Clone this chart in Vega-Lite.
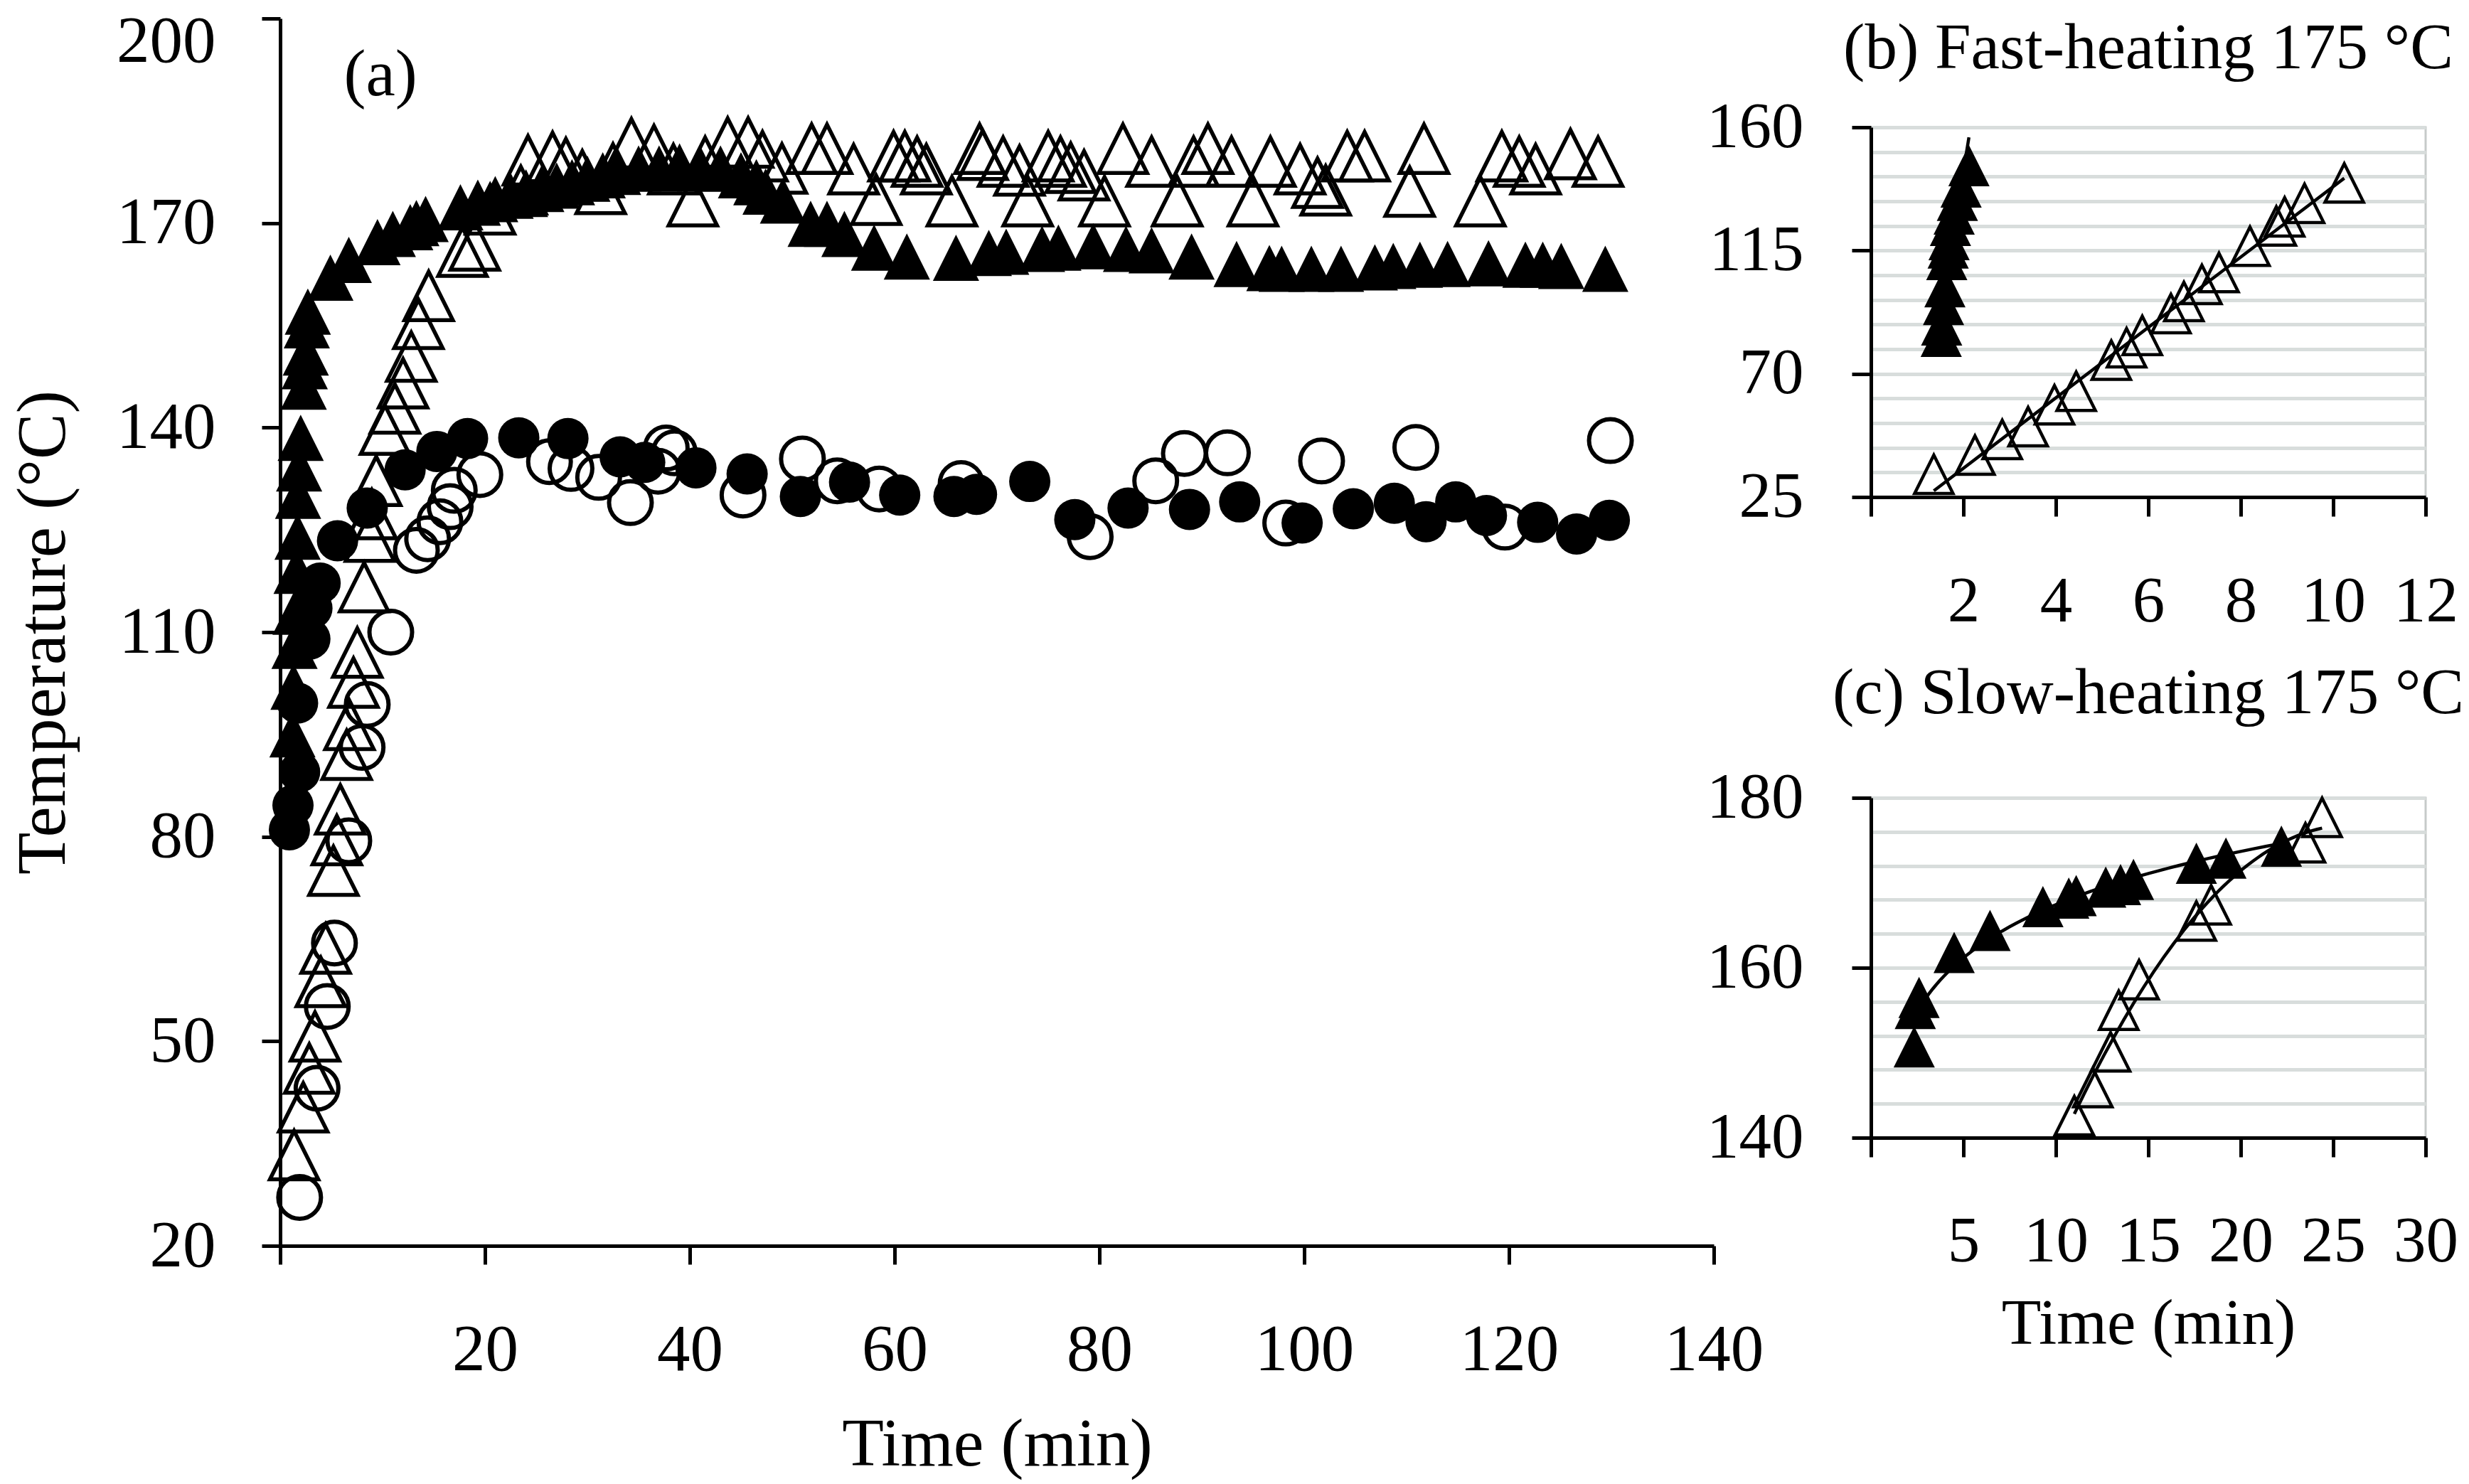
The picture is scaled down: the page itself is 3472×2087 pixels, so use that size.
{
  "$schema": "https://vega.github.io/schema/vega-lite/v6.json",
  "background": "white",
  "padding": {"left": 12, "top": 12, "right": 0, "bottom": 8},
  "config": {
    "font": "Liberation Serif",
    "view": {"stroke": null},
    "axis": {
      "labelFont": "Liberation Serif", "titleFont": "Liberation Serif",
      "labelColor": "black", "titleColor": "black", "titleFontWeight": "normal",
      "domainColor": "black", "tickColor": "black", "domainWidth": 5, "tickWidth": 5,
      "labelFlush": false, "labelOverlap": false, "grid": false
    }
  },
  "datasets": {
    "main": [
      {"s":"ot","t":1.36,"T":33.3},{"s":"ot","t":2.25,"T":40.3},{"s":"ot","t":2.84,"T":46},{"s":"ot","t":3.4,"T":50.7},{"s":"ot","t":3.97,"T":58.7},{"s":"ot","t":4.44,"T":63.6},{"s":"ot","t":5.2,"T":75},{"s":"ot","t":5.53,"T":79.5},{"s":"ot","t":5.87,"T":84},{"s":"ot","t":6.49,"T":92},{"s":"ot","t":6.77,"T":96.4},{"s":"ot","t":7.16,"T":102.6},{"s":"ot","t":7.53,"T":107},{"s":"ot","t":8.2,"T":116.6},{"s":"ot","t":8.77,"T":124},{"s":"ot","t":8.95,"T":127.3},{"s":"ot","t":9.38,"T":132.2},{"s":"ot","t":10.24,"T":139.7},{"s":"ot","t":11.2,"T":142.8},{"s":"ot","t":12,"T":146.5},{"s":"ot","t":12.8,"T":150.4},{"s":"ot","t":13.5,"T":155.2},{"s":"ot","t":14.5,"T":159.3},{"s":"ot","t":17.8,"T":165.8},{"s":"ot","t":19,"T":166.7},{"s":"ot","t":20.5,"T":172},{"s":"ot","t":23.5,"T":174.7},{"s":"ot","t":24.2,"T":179.2},{"s":"ot","t":26.6,"T":179.7},{"s":"ot","t":27.9,"T":178.8},{"s":"ot","t":29.5,"T":177},{"s":"ot","t":31.3,"T":175},{"s":"ot","t":32.5,"T":178},{"s":"ot","t":34.3,"T":181.7},{"s":"ot","t":36.5,"T":180.7},{"s":"ot","t":38.4,"T":177.9},{"s":"ot","t":40.3,"T":173.2},{"s":"ot","t":41.5,"T":179},{"s":"ot","t":43.7,"T":181.8},{"s":"ot","t":45.7,"T":181.8},{"s":"ot","t":47.1,"T":179.8},{"s":"ot","t":49,"T":178},{"s":"ot","t":51.9,"T":180.9},{"s":"ot","t":53.4,"T":180.9},{"s":"ot","t":56,"T":177.9},{"s":"ot","t":58.2,"T":173.4},{"s":"ot","t":59.9,"T":179.8},{"s":"ot","t":61,"T":179.8},{"s":"ot","t":62.2,"T":179},{"s":"ot","t":63.1,"T":177.9},{"s":"ot","t":65.6,"T":173.2},{"s":"ot","t":68.3,"T":180.9},{"s":"ot","t":68.6,"T":180},{"s":"ot","t":70.6,"T":179},{"s":"ot","t":72.2,"T":177.7},{"s":"ot","t":73,"T":173.2},{"s":"ot","t":75,"T":179.8},{"s":"ot","t":76.2,"T":179},{"s":"ot","t":77.2,"T":178.1},{"s":"ot","t":78.5,"T":177},{"s":"ot","t":80.5,"T":173.2},{"s":"ot","t":82.3,"T":180.9},{"s":"ot","t":85.1,"T":179},{"s":"ot","t":87.6,"T":173.2},{"s":"ot","t":89.2,"T":179},{"s":"ot","t":90.6,"T":180.9},{"s":"ot","t":92.9,"T":179},{"s":"ot","t":95,"T":173.2},{"s":"ot","t":96.7,"T":179},{"s":"ot","t":99.6,"T":177.9},{"s":"ot","t":101.3,"T":175.9},{"s":"ot","t":102.1,"T":174.8},{"s":"ot","t":104.2,"T":179.8},{"s":"ot","t":105.9,"T":179.8},{"s":"ot","t":110.3,"T":174.6},{"s":"ot","t":111.7,"T":180.9},{"s":"ot","t":117.2,"T":173.2},{"s":"ot","t":119.3,"T":179.8},{"s":"ot","t":121,"T":179},{"s":"ot","t":122.6,"T":177.9},{"s":"ot","t":126,"T":180.1},{"s":"ot","t":128.7,"T":179},
      {"s":"oc","t":1.9,"T":27.1},{"s":"oc","t":3.6,"T":43.1},{"s":"oc","t":4.6,"T":55.1},{"s":"oc","t":5.3,"T":64.4},{"s":"oc","t":6.7,"T":79.4},{"s":"oc","t":8,"T":93.1},{"s":"oc","t":8.5,"T":99.4},{"s":"oc","t":10.8,"T":110},{"s":"oc","t":13.3,"T":122},{"s":"oc","t":14.4,"T":123.7},{"s":"oc","t":15.6,"T":126.2},{"s":"oc","t":16.6,"T":128.4},{"s":"oc","t":17,"T":130.8},{"s":"oc","t":19.5,"T":133.1},{"s":"oc","t":26.3,"T":135},{"s":"oc","t":28.4,"T":134},{"s":"oc","t":31.1,"T":132.7},{"s":"oc","t":34.2,"T":129},{"s":"oc","t":36.9,"T":133.6},{"s":"oc","t":37.7,"T":137},{"s":"oc","t":38.5,"T":136.3},{"s":"oc","t":45.2,"T":130.1},{"s":"oc","t":51,"T":135.4},{"s":"oc","t":54.4,"T":132.2},{"s":"oc","t":58.5,"T":131},{"s":"oc","t":66.5,"T":131.8},{"s":"oc","t":79.1,"T":124},{"s":"oc","t":85.5,"T":132.2},{"s":"oc","t":88.3,"T":136.2},{"s":"oc","t":92.5,"T":136.3},{"s":"oc","t":98.2,"T":126},{"s":"oc","t":101.7,"T":135.1},{"s":"oc","t":110.9,"T":137.1},{"s":"oc","t":119.6,"T":125.4},{"s":"oc","t":129.9,"T":138.1},
      {"s":"ft","t":1.2,"T":95},{"s":"ft","t":1.3,"T":102},{"s":"ft","t":1.4,"T":108},{"s":"ft","t":1.5,"T":113},{"s":"ft","t":1.6,"T":119},{"s":"ft","t":1.7,"T":124},{"s":"ft","t":1.75,"T":130},{"s":"ft","t":1.85,"T":134},{"s":"ft","t":2,"T":138.5},{"s":"ft","t":2.3,"T":146},{"s":"ft","t":2.4,"T":149},{"s":"ft","t":2.5,"T":151},{"s":"ft","t":2.6,"T":155},{"s":"ft","t":2.7,"T":157},{"s":"ft","t":4.9,"T":162},{"s":"ft","t":6.7,"T":164.6},{"s":"ft","t":9.5,"T":167.2},{"s":"ft","t":11,"T":168.4},{"s":"ft","t":12.7,"T":169.4},{"s":"ft","t":13.3,"T":170},{"s":"ft","t":14.2,"T":170.6},{"s":"ft","t":17.6,"T":172.3},{"s":"ft","t":19.3,"T":173},{"s":"ft","t":21,"T":173.5},{"s":"ft","t":22.5,"T":174},{"s":"ft","t":24,"T":174.5},{"s":"ft","t":25.5,"T":175},{"s":"ft","t":27,"T":175.5},{"s":"ft","t":28.5,"T":176},{"s":"ft","t":30,"T":176.5},{"s":"ft","t":31.5,"T":177},{"s":"ft","t":33,"T":177.5},{"s":"ft","t":35,"T":178},{"s":"ft","t":37,"T":178},{"s":"ft","t":39,"T":178.3},{"s":"ft","t":41,"T":178},{"s":"ft","t":43,"T":178},{"s":"ft","t":45,"T":177},{"s":"ft","t":46.5,"T":176},{"s":"ft","t":47.4,"T":174.6},{"s":"ft","t":49.1,"T":173.3},{"s":"ft","t":51.8,"T":169.9},{"s":"ft","t":53.4,"T":169.9},{"s":"ft","t":55.1,"T":168.4},{"s":"ft","t":58,"T":166.4},{"s":"ft","t":61.2,"T":165.1},{"s":"ft","t":66,"T":164.9},{"s":"ft","t":69.2,"T":165.6},{"s":"ft","t":70.9,"T":165.8},{"s":"ft","t":74.4,"T":166.2},{"s":"ft","t":76,"T":166.4},{"s":"ft","t":79.4,"T":166.6},{"s":"ft","t":82.6,"T":166.2},{"s":"ft","t":85.1,"T":166},{"s":"ft","t":89,"T":165.1},{"s":"ft","t":93.4,"T":164},{"s":"ft","t":96.6,"T":163.4},{"s":"ft","t":97.8,"T":163.3},{"s":"ft","t":100.7,"T":163.3},{"s":"ft","t":103.6,"T":163.3},{"s":"ft","t":106.9,"T":163.5},{"s":"ft","t":108.7,"T":163.7},{"s":"ft","t":111.3,"T":163.9},{"s":"ft","t":114,"T":164},{"s":"ft","t":118,"T":164.1},{"s":"ft","t":121.6,"T":163.9},{"s":"ft","t":123.3,"T":163.9},{"s":"ft","t":125.1,"T":163.7},{"s":"ft","t":129.4,"T":163.3},
      {"s":"fc","t":0.9,"T":81},{"s":"fc","t":1.25,"T":84.6},{"s":"fc","t":1.9,"T":89.5},{"s":"fc","t":1.7,"T":99.6},{"s":"fc","t":2.9,"T":109},{"s":"fc","t":3.1,"T":113.5},{"s":"fc","t":3.9,"T":117.2},{"s":"fc","t":5.6,"T":123.4},{"s":"fc","t":8.5,"T":128.2},{"s":"fc","t":12.2,"T":133.8},{"s":"fc","t":15.3,"T":136.5},{"s":"fc","t":18.3,"T":138.4},{"s":"fc","t":23.3,"T":138.5},{"s":"fc","t":28.1,"T":138.4},{"s":"fc","t":33.2,"T":135.7},{"s":"fc","t":35.6,"T":134.9},{"s":"fc","t":40.6,"T":134.1},{"s":"fc","t":45.6,"T":133.2},{"s":"fc","t":50.8,"T":129.9},{"s":"fc","t":55.6,"T":132},{"s":"fc","t":60.5,"T":130.1},{"s":"fc","t":65.8,"T":129.9},{"s":"fc","t":68,"T":130.2},{"s":"fc","t":73.2,"T":132.1},{"s":"fc","t":77.6,"T":126.5},{"s":"fc","t":82.8,"T":128.2},{"s":"fc","t":88.8,"T":128},{"s":"fc","t":93.7,"T":129.1},{"s":"fc","t":99.8,"T":126},{"s":"fc","t":104.8,"T":128.1},{"s":"fc","t":108.8,"T":128.9},{"s":"fc","t":111.9,"T":126.2},{"s":"fc","t":114.8,"T":129.1},{"s":"fc","t":117.8,"T":127.1},{"s":"fc","t":122.8,"T":126.1},{"s":"fc","t":126.6,"T":124.4},{"s":"fc","t":129.8,"T":126.4}
    ],
    "fast": [
      {"s":"ft","t":1.52,"T":83.7},{"s":"ft","t":1.53,"T":87.8},{"s":"ft","t":1.57,"T":95.3},{"s":"ft","t":1.6,"T":101.8},{"s":"ft","t":1.64,"T":111.7},{"s":"ft","t":1.67,"T":115.9},{"s":"ft","t":1.69,"T":119},{"s":"ft","t":1.72,"T":124.2},{"s":"ft","t":1.8,"T":128.3},{"s":"ft","t":1.87,"T":133.3},{"s":"ft","t":1.95,"T":138.2},{"s":"ft","t":2.12,"T":146},
      {"s":"ot","t":1.36,"T":33.3},{"s":"ot","t":2.25,"T":40.3},{"s":"ot","t":2.84,"T":46},{"s":"ot","t":3.4,"T":50.7},{"s":"ot","t":3.97,"T":58.7},{"s":"ot","t":4.44,"T":63.6},{"s":"ot","t":5.2,"T":75},{"s":"ot","t":5.53,"T":79.5},{"s":"ot","t":5.87,"T":84},{"s":"ot","t":6.49,"T":92},{"s":"ot","t":6.77,"T":96.4},{"s":"ot","t":7.16,"T":102.6},{"s":"ot","t":7.53,"T":107},{"s":"ot","t":8.2,"T":116.6},{"s":"ot","t":8.77,"T":124},{"s":"ot","t":8.95,"T":127.3},{"s":"ot","t":9.38,"T":132.2},{"s":"ot","t":10.24,"T":139.7}
    ],
    "slow": [
      {"s":"ft","t":2.34,"T":150.7},{"s":"ft","t":2.4,"T":155.2},{"s":"ft","t":2.6,"T":156.5},{"s":"ft","t":4.5,"T":161.8},{"s":"ft","t":6.44,"T":164.4},{"s":"ft","t":9.3,"T":167.2},{"s":"ft","t":10.7,"T":168.2},{"s":"ft","t":11.1,"T":168.5},{"s":"ft","t":12.7,"T":169.5},{"s":"ft","t":13.5,"T":169.8},{"s":"ft","t":14.2,"T":170.4},{"s":"ft","t":17.6,"T":172.3},{"s":"ft","t":19.2,"T":172.9},{"s":"ft","t":22.2,"T":174.3},
      {"s":"ot","t":11,"T":142.6},{"s":"ot","t":12,"T":145.9},{"s":"ot","t":12.96,"T":150.1},{"s":"ot","t":13.4,"T":155},{"s":"ot","t":14.5,"T":158.6},{"s":"ot","t":17.6,"T":165.5},{"s":"ot","t":18.4,"T":167.4},{"s":"ot","t":23.5,"T":174.7},{"s":"ot","t":24.4,"T":177.7}
    ]
  },
  "spacing": -82,
  "hconcat": [
    {
      "width": 2016,
      "height": 1726,
      "encoding": {
        "x": {"field": "t", "type": "quantitative", "scale": {"domain": [0, 140], "nice": false, "zero": false},
          "axis": {"values": [0,20,40,60,80,100,120,140], "labelExpr": "datum.value === 0 ? '' : datum.label", "title": "Time (min)",
            "tickSize": 26, "labelPadding": 75, "labelFontSize": 93, "titleFontSize": 96, "titlePadding": 39}},
        "y": {"field": "T", "type": "quantitative", "scale": {"domain": [20, 200], "nice": false, "zero": false},
          "axis": {"values": [20,50,80,110,140,170,200], "title": "Temperature (°C)",
            "tickSize": 26, "labelPadding": 65, "labelFontSize": 93, "titleFontSize": 97, "titlePadding": 84,
            "labelBaseline": {"condition": {"test": "datum.value === 200", "value": "top"}, "value": "middle"},
            "labelOffset": {"condition": {"test": "datum.value === 200", "value": -13}, "value": 0}}}
      },
      "layer": [
        {"data": {"name": "main"}, "transform": [{"filter": "datum.s === 'ot'"}],
         "mark": {"type": "point", "shape": "M0,-1L1,1L-1,1Z", "size": 4624, "filled": false, "stroke": "black", "strokeWidth": 5.5, "opacity": 1}},
        {"data": {"name": "main"}, "transform": [{"filter": "datum.s === 'oc'"}],
         "mark": {"type": "point", "shape": "circle", "size": 3600, "filled": false, "stroke": "black", "strokeWidth": 6, "opacity": 1}},
        {"data": {"name": "main"}, "transform": [{"filter": "datum.s === 'ft'"}],
         "mark": {"type": "point", "shape": "M0,-1L1,1L-1,1Z", "size": 4225, "filled": true, "fill": "black", "opacity": 1}},
        {"data": {"name": "main"}, "transform": [{"filter": "datum.s === 'fc'"}],
         "mark": {"type": "point", "shape": "circle", "size": 3364, "filled": true, "fill": "black", "opacity": 1}},
        {"data": {"values": [{"t": 9.8, "T": 191.7, "label": "(a)"}]},
         "mark": {"type": "text", "fontSize": 93, "font": "Liberation Serif", "color": "black", "align": "center", "baseline": "middle"},
         "encoding": {"text": {"field": "label"}}}
      ]
    },
    {
      "spacing": -9,
      "vconcat": [
        {
          "width": 780,
          "height": 1,
          "data": {"values": [{"v": 0}]},
          "mark": {"type": "point", "opacity": 0},
          "encoding": {}
        },
        {
          "spacing": 35,
          "vconcat": [
            {
              "width": 780,
              "height": 520,
              "view": {"stroke": "#c6cac9", "strokeWidth": 3},
              "title": {"text": "(b) Fast-heating 175 °C", "fontSize": 91, "font": "Liberation Serif", "fontWeight": "normal", "color": "black", "frame": "group", "anchor": "middle", "offset": 18},
              "encoding": {
                "x": {"field": "t", "type": "quantitative", "scale": {"domain": [0, 12], "nice": false, "zero": false},
                  "axis": {"values": [0,2,4,6,8,10,12], "labelExpr": "datum.value === 0 ? '' : datum.label", "title": null,
                    "tickSize": 27, "labelPadding": 75, "labelFontSize": 91}},
                "y": {"field": "T", "type": "quantitative", "scale": {"domain": [25, 160], "nice": false, "zero": false},
                  "axis": {"values": [25,34,43,52,61,70,79,88,97,106,115,124,133,142,151,160], "title": null,
                    "labelExpr": "(datum.value - 25) % 45 === 0 ? datum.label : ''",
                    "tickOpacity": {"condition": {"test": "(datum.value - 25) % 45 === 0", "value": 1}, "value": 0},
                    "grid": true, "gridColor": "#d8dddc", "gridWidth": 5,
                    "tickSize": 27, "labelPadding": 68, "labelFontSize": 91}}
              },
              "layer": [
                {"data": {"name": "fast"}, "transform": [{"filter": "datum.s === 'ft'"}, {"regression": "T", "on": "t", "method": "linear"}],
                 "mark": {"type": "line", "color": "black", "strokeWidth": 4.5}},
                {"data": {"name": "fast"}, "transform": [{"filter": "datum.s === 'ot'"}, {"regression": "T", "on": "t", "method": "linear"}],
                 "mark": {"type": "line", "color": "black", "strokeWidth": 4.5}},
                {"data": {"name": "fast"}, "transform": [{"filter": "datum.s === 'ot'"}],
                 "mark": {"type": "point", "shape": "M0,-1L1,1L-1,1Z", "size": 2916, "filled": false, "stroke": "black", "strokeWidth": 4.5, "opacity": 1}},
                {"data": {"name": "fast"}, "transform": [{"filter": "datum.s === 'ft'"}],
                 "mark": {"type": "point", "shape": "M0,-1L1,1L-1,1Z", "size": 3364, "filled": true, "fill": "black", "opacity": 1}}
              ]
            },
            {
              "width": 780,
              "height": 478,
              "view": {"stroke": "#c6cac9", "strokeWidth": 3},
              "title": {"text": "(c) Slow-heating 175 °C", "fontSize": 91, "font": "Liberation Serif", "fontWeight": "normal", "color": "black", "frame": "group", "anchor": "middle", "offset": 54},
              "encoding": {
                "x": {"field": "t", "type": "quantitative", "scale": {"domain": [0, 30], "nice": false, "zero": false},
                  "axis": {"values": [0,5,10,15,20,25,30], "labelExpr": "datum.value === 0 ? '' : datum.label", "title": "Time (min)",
                    "tickSize": 27, "labelPadding": 74, "labelFontSize": 91, "titleFontSize": 91, "titlePadding": 26}},
                "y": {"field": "T", "type": "quantitative", "scale": {"domain": [140, 180], "nice": false, "zero": false},
                  "axis": {"values": [140,144,148,152,156,160,164,168,172,176,180], "title": null,
                    "labelExpr": "(datum.value - 140) % 20 === 0 ? datum.label : ''",
                    "tickOpacity": {"condition": {"test": "(datum.value - 140) % 20 === 0", "value": 1}, "value": 0},
                    "grid": true, "gridColor": "#d8dddc", "gridWidth": 5,
                    "tickSize": 27, "labelPadding": 68, "labelFontSize": 91}}
              },
              "layer": [
                {"data": {"name": "slow"}, "transform": [{"filter": "datum.s === 'ft'"}, {"regression": "T", "on": "t", "method": "log"}],
                 "mark": {"type": "line", "color": "black", "strokeWidth": 4.5}},
                {"data": {"name": "slow"}, "transform": [{"filter": "datum.s === 'ot'"}, {"regression": "T", "on": "t", "method": "poly", "order": 2}],
                 "mark": {"type": "line", "color": "black", "strokeWidth": 4.5}},
                {"data": {"name": "slow"}, "transform": [{"filter": "datum.s === 'ot'"}],
                 "mark": {"type": "point", "shape": "M0,-1L1,1L-1,1Z", "size": 2916, "filled": false, "stroke": "black", "strokeWidth": 4.5, "opacity": 1}},
                {"data": {"name": "slow"}, "transform": [{"filter": "datum.s === 'ft'"}],
                 "mark": {"type": "point", "shape": "M0,-1L1,1L-1,1Z", "size": 3364, "filled": true, "fill": "black", "opacity": 1}}
              ]
            }
          ]
        }
      ]
    }
  ]
}
